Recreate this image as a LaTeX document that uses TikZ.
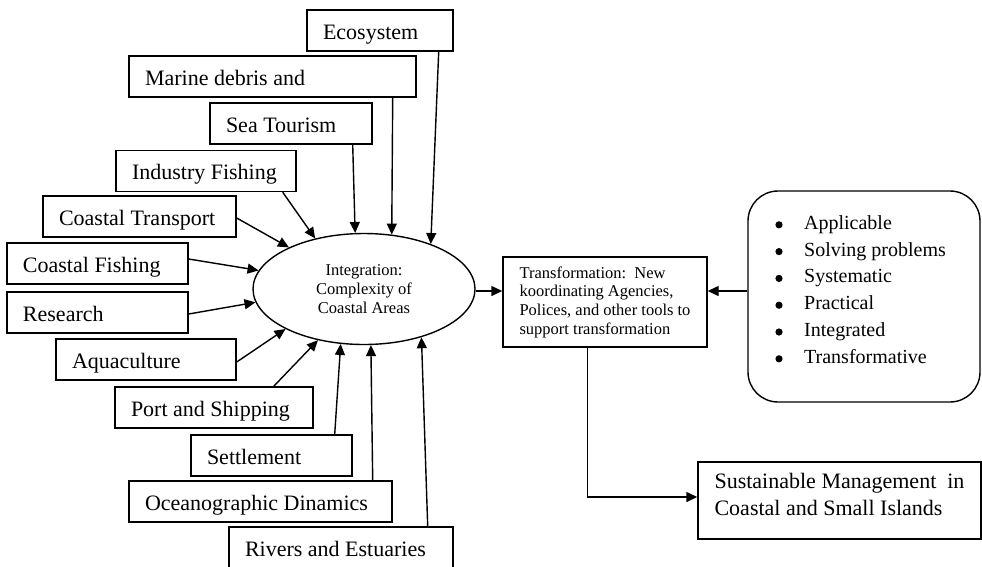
\documentclass[tikz,border=0pt]{standalone}
\usepackage{fontspec}
\setmainfont{Liberation Serif}
\usetikzlibrary{arrows.meta,shapes.geometric}
\newcommand\lbx[2]{\makebox[#1pt][l]{#2}}
\tikzset{
  box/.style={draw, line width=1.4pt, inner xsep=16pt, inner ysep=0pt, minimum height=41pt,
    text height=19pt, text depth=2pt, font=\fontsize{22}{26}\selectfont},
  tbox/.style={draw, line width=1.4pt, inner sep=0pt, align=left},
  arr/.style={line width=1.4pt, -{Triangle[length=11pt,width=10pt]}},
}
\begin{document}
\begin{tikzpicture}[x=1pt,y=-1pt]
\useasboundingbox (0,0) rectangle (982,566);
\clip (0,0) rectangle (982,566);
% central ellipse
\node[draw, ellipse, line width=1.4pt, minimum width=222pt, minimum height=111pt, inner sep=0pt,
  align=center, font=\fontsize{16.5}{18.7}\selectfont] (ell) at (364,289)
  {Integration:\\Complexity of\\Coastal Areas};
% input boxes
\node[box] (eco) at (380,30.5)   {\lbx{114}{Ecosystem}};
\node[box] (mar) at (272.5,76.5) {\lbx{255}{Marine debris and}};
\node[box] (sea) at (291,123.5)  {\lbx{130}{Sea Tourism}};
\node[box] (ind) at (206,171)    {\lbx{148}{Industry Fishing}};
\node[box] (ct)  at (139.5,216.5){\lbx{161}{Coastal Transport}};
\node[box] (cf)  at (97.5,263.5) {\lbx{149}{Coastal Fishing}};
\node[box] (res) at (97.5,312.5) {\lbx{149}{Research}};
\node[box] (aq)  at (146,359.5)  {\lbx{148}{Aquaculture}};
\node[box] (port) at (214,407.5) {\lbx{166}{Port and Shipping}};
\node[box] (set) at (271.5,455.5){\lbx{129}{Settlement}};
\node[box] (oce) at (260.5,501.5){\lbx{231}{Oceanographic Dinamics}};
\node[box] (riv) at (341,547.5)  {\lbx{192}{Rivers and Estuaries}};
% transformation
\node[tbox, minimum width=204pt, minimum height=90pt, font=\fontsize{16.5}{18.7}\selectfont] (trans) at (605,302)
  {Transformation:\ \ New\\koordinating Agencies,\\Polices, and other tools to\\support transformation};
% criteria
\node[draw, line width=1.4pt, rounded corners=30pt, minimum width=232pt, minimum height=211pt, inner sep=0pt,
  font=\fontsize{20}{26.8}\selectfont] (crit) at (864,296.5)
  {\raisebox{5.5pt}[\height][\depth]{\begin{tabular}{@{}l@{\hspace{20pt}}l@{\hspace{6pt}}}
   \makebox[8pt]{} & Applicable\\
   \makebox[8pt]{} & Solving problems\\
   \makebox[8pt]{} & Systematic\\
   \makebox[8pt]{} & Practical\\
   \makebox[8pt]{} & Integrated\\
   \makebox[8pt]{} & Transformative
  \end{tabular}}};
\foreach \i in {0,...,5} \fill (779,224.8+26.8*\i) circle (3.6pt);
% sustainable
\node[tbox, minimum width=283pt, minimum height=77pt, font=\fontsize{22}{27}\selectfont] (sus) at (839.5,500.5)
  {\raisebox{4pt}[\height][\depth]{\begin{tabular}{@{}l@{}}Sustainable Management\ \ in\\Coastal and Small Islands\end{tabular}}};
% connectors into ellipse
\draw[arr] ([xshift=-15pt]eco.south east) -- (ell.34);
\draw[arr] ([xshift=-24pt]mar.south east) -- (ell.63.4);
\draw[arr] ([xshift=-20pt]sea.south east) -- (ell.99);
\draw[arr] ([xshift=-14pt]ind.south east) -- (ell.134.4);
\draw[arr] ([yshift=-1.5pt]ct.east) -- (ell.151.3);
\draw[arr] ([yshift=4.5pt]cf.east) -- (ell.170.3);
\draw[arr] ([yshift=-1.5pt]res.east) -- (ell.187.2);
\draw[arr] ([yshift=-2.5pt]aq.east) -- (ell.207.6);
\draw[arr] ([xshift=-40pt]port.north east) -- (ell.228.7);
\draw[arr] ([xshift=-18pt]set.north east) -- (ell.247.9);
\draw[arr] ([xshift=-20pt]oce.north east) -- (ell.277.7);
\draw[arr] ([xshift=-26pt]riv.north east) -- (ell.320.4);
% right side
\draw[arr] ([yshift=-2pt]ell.east) -- ([yshift=-2pt]ell.east -| trans.west);
\draw[arr] ([yshift=5.5pt]crit.west) -- ([yshift=5.5pt]crit.west -| trans.east);
\draw[arr] ([xshift=85pt]trans.south west) |- ([yshift=3.5pt]sus.west);
\end{tikzpicture}
\end{document}
